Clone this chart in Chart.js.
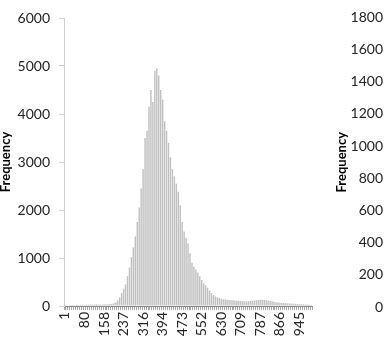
<!DOCTYPE html>
<html>
<head>
<meta charset="utf-8">
<script src="https://cdn.jsdelivr.net/npm/chart.js@4.4.1/dist/chart.umd.min.js"></script>
<style>
  html, body { margin: 0; padding: 0; background: #fff; overflow: hidden; }
  #wrap { position: relative; width: 386px; height: 347px; overflow: hidden; }
  #histChart { position: absolute; left: -2px; top: 0; }
  #sideChart { position: absolute; left: 330px; top: 0; }
</style>
</head>
<body>
<div id="wrap">
  <canvas id="histChart" width="332" height="347"></canvas>
  <canvas id="sideChart" width="120" height="347"></canvas>
</div>
<script>
/* ── Data ── */
// one value per bin (127 bins)
const binCounts = [
  12, 18, 15, 20, 22, 18, 25, 20, 24, 28,
  22, 30, 26, 32, 28, 30, 35, 30, 32, 28,
  34, 30, 36, 40, 45, 55, 80, 120, 180, 270,
  360, 450, 620, 800, 1020, 1220, 1450, 1750, 2050, 2450,
  2850, 3500, 3650, 4150, 4500, 4250, 4900, 4950, 4800, 4500,
  4300, 3850, 3650, 3400, 3100, 2850, 2700, 2550, 2380, 2100,
  1750, 1550, 1420, 1300, 1100, 900, 820, 760, 700, 620,
  540, 470, 430, 380, 320, 270, 230, 200, 180, 165,
  150, 140, 135, 130, 125, 120, 118, 115, 110, 108,
  105, 100, 98, 95, 100, 105, 110, 115, 120, 125,
  130, 130, 125, 120, 115, 110, 100, 90, 80, 75,
  70, 65, 60, 58, 55, 52, 50, 48, 45, 42,
  40, 38, 35, 32, 30, 28, 25
];
// labels shown under every 10th bin
const tickLabels = ['1', '80', '158', '237', '316', '394', '473', '552', '630', '709', '787', '866', '945'];
const labelEvery = 10;

const leftMax  = 6000;
const leftStep = 1000;
const rightMax  = 1800;
const rightStep = 200;

/* ── Defaults ── */
Chart.defaults.font.family = "Lato, 'Open Sans', sans-serif";
Chart.defaults.font.size = 14;
Chart.defaults.color = '#222';
Chart.defaults.animation = false;

const titleFont = { family: "Lato, 'Open Sans', sans-serif", size: 13, weight: 'bold' };
const plainNum = v => String(v);

/* ── Histogram ── */
new Chart(document.getElementById('histChart'), {
  type: 'bar',
  data: {
    labels: binCounts.map((_, i) => i),
    datasets: [{
      data: binCounts,
      backgroundColor: '#bfbfbf',
      borderWidth: 0,
      barPercentage: 0.72,
      categoryPercentage: 1
    }]
  },
  options: {
    responsive: false,
    layout: { padding: { top: 18, right: 15, left: 0, bottom: 0 } },
    plugins: { legend: { display: false }, tooltip: { enabled: false } },
    scales: {
      x: {
        grid: { drawOnChartArea: false, tickLength: 4, tickColor: '#a6a6a6', offset: true },
        border: { color: '#868686', width: 1 },
        ticks: {
          autoSkip: false,
          minRotation: 90,
          maxRotation: 90,
          padding: 2,
          callback: (v, i) => (i % labelEvery === 0 ? (tickLabels[i / labelEvery] || '') : '')
        },
        afterFit: s => { s.height = 41; }
      },
      y: {
        min: 0,
        max: leftMax,
        ticks: { stepSize: leftStep, padding: 9, callback: plainNum },
        grid: { drawOnChartArea: false, tickLength: 5, tickColor: '#d0d0d0' },
        border: { color: '#d0d0d0', width: 1 },
        title: { display: true, text: 'Frequency', font: titleFont, color: '#000', padding: { top: 0, bottom: 0 } },
        afterFit: s => { s.width = 66; }
      }
    }
  }
});

/* ── Second chart, cut off at the right edge ── */
new Chart(document.getElementById('sideChart'), {
  type: 'bar',
  data: { labels: [''], datasets: [{ data: [0] }] },
  options: {
    responsive: false,
    layout: { padding: { top: 7, bottom: 40 } },
    plugins: { legend: { display: false }, tooltip: { enabled: false } },
    scales: {
      x: { display: false },
      y: {
        min: 0,
        max: rightMax,
        ticks: { stepSize: rightStep, padding: 9, callback: plainNum },
        grid: { drawOnChartArea: false, tickLength: 5, tickColor: '#d0d0d0' },
        border: { color: '#d0d0d0', width: 1 },
        title: { display: true, text: 'Frequency', font: titleFont, color: '#000', padding: { top: 4, bottom: 0 } },
        afterFit: s => { s.width = 67; }
      }
    }
  }
});
</script>
</body>
</html>
